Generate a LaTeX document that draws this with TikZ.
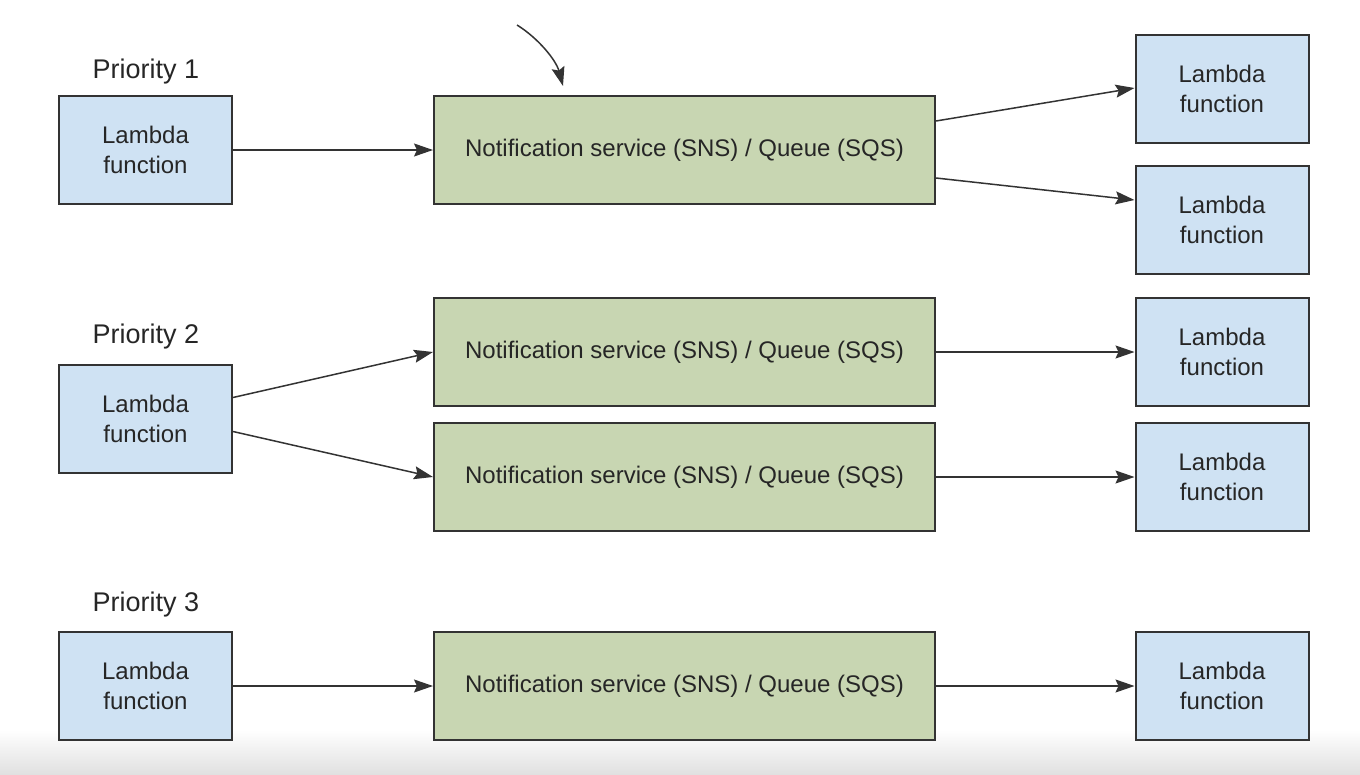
\documentclass[tikz,border=0pt]{standalone}
\usepackage{fontspec}
\setmainfont{Liberation Sans}
\usetikzlibrary{arrows.meta}
\definecolor{lamfill}{RGB}{207,226,243}
\definecolor{snsfill}{RGB}{200,214,178}
\definecolor{edge}{RGB}{51,51,51}
\begin{document}
\begin{tikzpicture}[x=1pt,y=-1pt,
  lam/.style={draw=edge,line width=2pt,fill=lamfill,minimum width=173pt,minimum height=108pt,inner sep=0pt,align=center,font=\fontsize{24}{30}\selectfont,text=black!85},
  sns/.style={draw=edge,line width=2pt,fill=snsfill,minimum width=501pt,minimum height=108pt,inner sep=0pt,align=center,font=\fontsize{24}{28}\selectfont,text=black!85},
  prio/.style={font=\fontsize{27}{30}\selectfont,text=black!85},
  conn/.style={draw=edge,line width=1.5pt,-{Stealth[length=19pt,width=13pt,inset=3pt]}}]
\useasboundingbox (0,0) rectangle (1360,774);
\shade[top color=white,bottom color=black!12] (0,730) rectangle (1360,774);
% left lambdas
\node[lam] (l1) at (145.5,150) {Lambda\\function};
\node[lam] (l2) at (145.5,418.5) {Lambda\\function};
\node[lam] (l3) at (145.5,686) {Lambda\\function};
\node[prio] (p1) at (146,72) {Priority 1};
\node[prio] (p2) at (146,337) {Priority 2};
\node[prio] (p3) at (146,605) {Priority 3};
% green
\node[sns] (s1) at (684.5,150) {Notification service (SNS) / Queue (SQS)};
\node[sns] (s2) at (684.5,352) {Notification service (SNS) / Queue (SQS)};
\node[sns] (s3) at (684.5,477) {Notification service (SNS) / Queue (SQS)};
\node[sns] (s4) at (684.5,686) {Notification service (SNS) / Queue (SQS)};
% right lambdas
\node[lam] (r1) at (1222,89) {Lambda\\function};
\node[lam] (r2) at (1222,220) {Lambda\\function};
\node[lam] (r3) at (1222,352) {Lambda\\function};
\node[lam] (r4) at (1222,477) {Lambda\\function};
\node[lam] (r5) at (1222,686) {Lambda\\function};
% connectors
\draw[conn] (l1.east) -- (s1.west);
\draw[conn] ([yshift=29pt]s1.east) -- ([yshift=1pt]r1.west);
\draw[conn] ([yshift=-28pt]s1.east) -- ([yshift=20pt]r2.west);
\draw[conn] ([yshift=21pt]l2.east) -- (s2.west);
\draw[conn] ([yshift=-13pt]l2.east) -- (s3.west);
\draw[conn] (s2.east) -- (r3.west);
\draw[conn] (s3.east) -- (r4.west);
\draw[conn] (l3.east) -- (s4.west);
\draw[conn] (s4.east) -- (r5.west);
\coordinate (c0) at (517,25);
\coordinate (c1) at (563,86);
\draw[conn] (c0) .. controls (538,38) and (556,60) .. (c1);
\end{tikzpicture}
\end{document}
